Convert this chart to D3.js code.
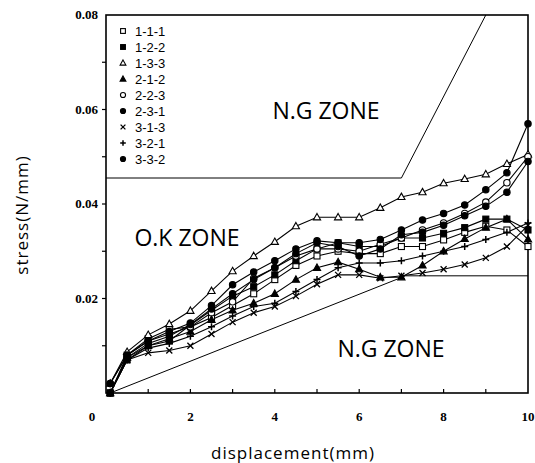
<!DOCTYPE html>
<html>
<head>
<meta charset="utf-8">
<script src="https://cdn.jsdelivr.net/npm/d3@7"></script>
<style>
  body { margin: 0; background: #fff; }
  svg { display: block; }
  .linha { fill: none; stroke: #000; stroke-width: 1.1; }
  .zona { fill: none; stroke: #000; stroke-width: 1; }
  .rotulo { font-family: "Open Sans", sans-serif; font-size: 23px; fill: #000; }
  .tick { font-family: "Liberation Serif", serif; font-weight: bold; font-size: 13px; fill: #000; }
  .leg { font-family: "Liberation Sans", sans-serif; font-size: 13px; fill: #000; }
  .eixo { font-family: "Open Sans", sans-serif; font-size: 17px; letter-spacing: 1px; fill: #000; }
</style>
</head>
<body>
<script>
// deslocamento (mm)
var xs = [0.1, 0.5, 1, 1.5, 2, 2.5, 3, 3.5, 4, 4.5, 5, 5.5, 6, 6.5, 7, 7.5, 8, 8.5, 9, 9.5, 10];

var nomes = ["1-1-1", "1-2-2", "1-3-3", "2-1-2", "2-2-3", "2-3-1", "3-1-3", "3-2-1", "3-3-2"];
var simbolos = ["sqOpen", "sqFill", "triOpen", "triFill", "cirOpen", "cirFill", "cross", "plus", "cirFill"];

var s111 = [0.000, 0.008, 0.0115, 0.0135, 0.014, 0.016, 0.0185, 0.021, 0.024, 0.027, 0.029, 0.030, 0.0295, 0.0295, 0.031, 0.031, 0.0324, 0.034, 0.0353, 0.0345, 0.031];
var s122 = [0.000, 0.007, 0.010, 0.011, 0.0144, 0.0175, 0.0205, 0.0225, 0.025, 0.028, 0.0305, 0.0318, 0.031, 0.031, 0.0328, 0.0328, 0.0338, 0.035, 0.0368, 0.0368, 0.0345];
var s133 = [0.002, 0.0087, 0.0123, 0.0146, 0.0174, 0.0216, 0.0258, 0.029, 0.032, 0.0353, 0.0372, 0.0372, 0.0372, 0.0392, 0.0415, 0.0425, 0.0444, 0.0453, 0.0463, 0.0485, 0.0505];
var s212 = [0.000, 0.0075, 0.010, 0.0115, 0.013, 0.0155, 0.0175, 0.019, 0.021, 0.024, 0.0265, 0.0277, 0.0262, 0.0245, 0.0245, 0.027, 0.030, 0.0326, 0.035, 0.0368, 0.0325];
var s223 = [0.002, 0.008, 0.011, 0.0125, 0.014, 0.017, 0.0193, 0.0243, 0.0265, 0.029, 0.0305, 0.0305, 0.030, 0.0315, 0.0328, 0.0345, 0.036, 0.038, 0.0404, 0.0445, 0.050];
var s231 = [0.002, 0.008, 0.011, 0.013, 0.0148, 0.0185, 0.0229, 0.0256, 0.028, 0.0305, 0.0322, 0.0318, 0.0318, 0.0325, 0.0345, 0.0366, 0.038, 0.0398, 0.043, 0.0466, 0.057];
var s313 = [0.000, 0.007, 0.0085, 0.009, 0.010, 0.0125, 0.015, 0.017, 0.0183, 0.0205, 0.023, 0.025, 0.025, 0.0243, 0.0248, 0.0254, 0.0262, 0.0272, 0.0286, 0.031, 0.0355];
var s321 = [0.000, 0.007, 0.0095, 0.0105, 0.012, 0.014, 0.0163, 0.0183, 0.019, 0.0215, 0.024, 0.0265, 0.0275, 0.0275, 0.028, 0.029, 0.030, 0.031, 0.0325, 0.034, 0.036];
var s332 = [0.000, 0.0075, 0.0105, 0.012, 0.0145, 0.0178, 0.021, 0.024, 0.0265, 0.0295, 0.0318, 0.031, 0.029, 0.0305, 0.0335, 0.034, 0.0355, 0.0375, 0.0395, 0.0425, 0.049];
var series = [s111, s122, s133, s212, s223, s231, s313, s321, s332];

// limites das zonas
var zonaSupX = [0, 7.0, 9.0];
var zonaSupY = [0.0455, 0.0455, 0.08];
var zonaInfX = [0.1, 7.1, 10];
var zonaInfY = [0, 0.0248, 0.0248];

var xTicks = [2, 4, 6, 8, 10];
var yTicks = [0.02, 0.04, 0.06, 0.08];

var svg = d3.select("body").append("svg").attr("width", 535).attr("height", 463);

var x = d3.scaleLinear().domain([0, 10]).range([106, 528]);
var y = d3.scaleLinear().domain([0, 0.08]).range([393, 15]);

var linha = d3.line().x(function (d) { return x(d[0]); }).y(function (d) { return y(d[1]); });

// moldura
svg.append("rect").attr("x", x(0)).attr("y", y(0.08)).attr("width", x(10) - x(0)).attr("height", y(0) - y(0.08))
  .attr("fill", "none").attr("stroke", "#000").attr("stroke-width", 1.6);

// ticks do eixo x (para dentro)
svg.append("g").selectAll("line").data(d3.range(1, 10)).enter().append("line")
  .attr("x1", function (d) { return x(d); }).attr("x2", function (d) { return x(d); })
  .attr("y1", y(0)).attr("y2", y(0) - 4).attr("stroke", "#000").attr("stroke-width", 1.2);

// ticks do eixo y (para fora)
svg.append("g").selectAll("line").data(d3.range(1, 8).map(function (i) { return i * 0.01; })).enter().append("line")
  .attr("x1", x(0)).attr("x2", x(0) - 4)
  .attr("y1", function (d) { return y(d); }).attr("y2", function (d) { return y(d); })
  .attr("stroke", "#000").attr("stroke-width", 1.2);

svg.append("g").selectAll("text").data(xTicks).enter().append("text").attr("class", "tick")
  .attr("x", function (d) { return x(d); }).attr("y", 421).attr("text-anchor", "middle")
  .text(function (d) { return d; });
svg.append("text").attr("class", "tick").attr("x", 92).attr("y", 421).attr("text-anchor", "middle").text("0");

svg.append("g").selectAll("text").data(yTicks).enter().append("text").attr("class", "tick")
  .attr("x", 98).attr("y", function (d) { return y(d) + 4; }).attr("text-anchor", "end")
  .text(function (d) { return d.toFixed(2); });

// zonas
svg.append("path").attr("class", "zona").attr("d", linha(zonaSupX.map(function (v, i) { return [v, zonaSupY[i]]; })));
svg.append("path").attr("class", "zona").attr("d", linha(zonaInfX.map(function (v, i) { return [v, zonaInfY[i]]; })));

svg.append("text").attr("class", "rotulo").attr("x", 326).attr("y", 119).attr("text-anchor", "middle").text("N.G ZONE");
svg.append("text").attr("class", "rotulo").attr("x", 187).attr("y", 246).attr("text-anchor", "middle").text("O.K ZONE");
svg.append("text").attr("class", "rotulo").attr("x", 391).attr("y", 357).attr("text-anchor", "middle").text("N.G ZONE");

// simbolos
function marcador(g, tipo, cx, cy, k) {
  k = k || 1;
  if (tipo == "sqOpen" || tipo == "sqFill") {
    g.append("rect").attr("x", cx - 3 * k).attr("y", cy - 3 * k).attr("width", 6 * k).attr("height", 6 * k)
      .attr("fill", tipo == "sqFill" ? "#000" : "#fff").attr("stroke", "#000").attr("stroke-width", 1.1);
  } else if (tipo == "triOpen" || tipo == "triFill") {
    g.append("path").attr("d", "M" + cx + "," + (cy - 3.8 * k) + "L" + (cx + 3.6 * k) + "," + (cy + 2.6 * k) + "L" + (cx - 3.6 * k) + "," + (cy + 2.6 * k) + "Z")
      .attr("fill", tipo == "triFill" ? "#000" : "#fff").attr("stroke", "#000").attr("stroke-width", 1.1);
  } else if (tipo == "cirOpen" || tipo == "cirFill") {
    g.append("circle").attr("cx", cx).attr("cy", cy).attr("r", 3.2 * k)
      .attr("fill", tipo == "cirFill" ? "#000" : "#fff").attr("stroke", "#000").attr("stroke-width", 1.1);
  } else if (tipo == "cross") {
    g.append("path").attr("d", "M" + (cx - 3 * k) + "," + (cy - 3 * k) + "L" + (cx + 3 * k) + "," + (cy + 3 * k) + "M" + (cx - 3 * k) + "," + (cy + 3 * k) + "L" + (cx + 3 * k) + "," + (cy - 3 * k))
      .attr("stroke", "#000").attr("stroke-width", 1.3);
  } else if (tipo == "plus") {
    g.append("path").attr("d", "M" + (cx - 3.5 * k) + "," + cy + "L" + (cx + 3.5 * k) + "," + cy + "M" + cx + "," + (cy - 3.5 * k) + "L" + cx + "," + (cy + 3.5 * k))
      .attr("stroke", "#000").attr("stroke-width", 1.5);
  }
}

// curvas
var gCurvas = svg.append("g");
series.forEach(function (s, i) {
  var pts = xs.map(function (v, j) { return [v, s[j]]; });
  gCurvas.append("path").attr("class", "linha").attr("d", linha(pts));
});
series.forEach(function (s, i) {
  var g = gCurvas.append("g");
  xs.forEach(function (v, j) {
    marcador(g, simbolos[i], x(v), y(s[j]));
  });
});

// legenda
var leg = svg.append("g");
nomes.forEach(function (n, i) {
  var ly = 32 + i * 16;
  marcador(leg, simbolos[i], 123, ly - 1, 0.8);
  leg.append("text").attr("class", "leg").attr("x", 135).attr("y", ly + 4).text(n);
});

svg.append("text").attr("class", "eixo").attr("transform", "translate(28,215) rotate(-90)")
  .attr("text-anchor", "middle").text("stress(N/mm)");
svg.append("text").attr("class", "eixo").attr("x", 293).attr("y", 459).attr("text-anchor", "middle").text("displacement(mm)");
</script>
</body>
</html>
